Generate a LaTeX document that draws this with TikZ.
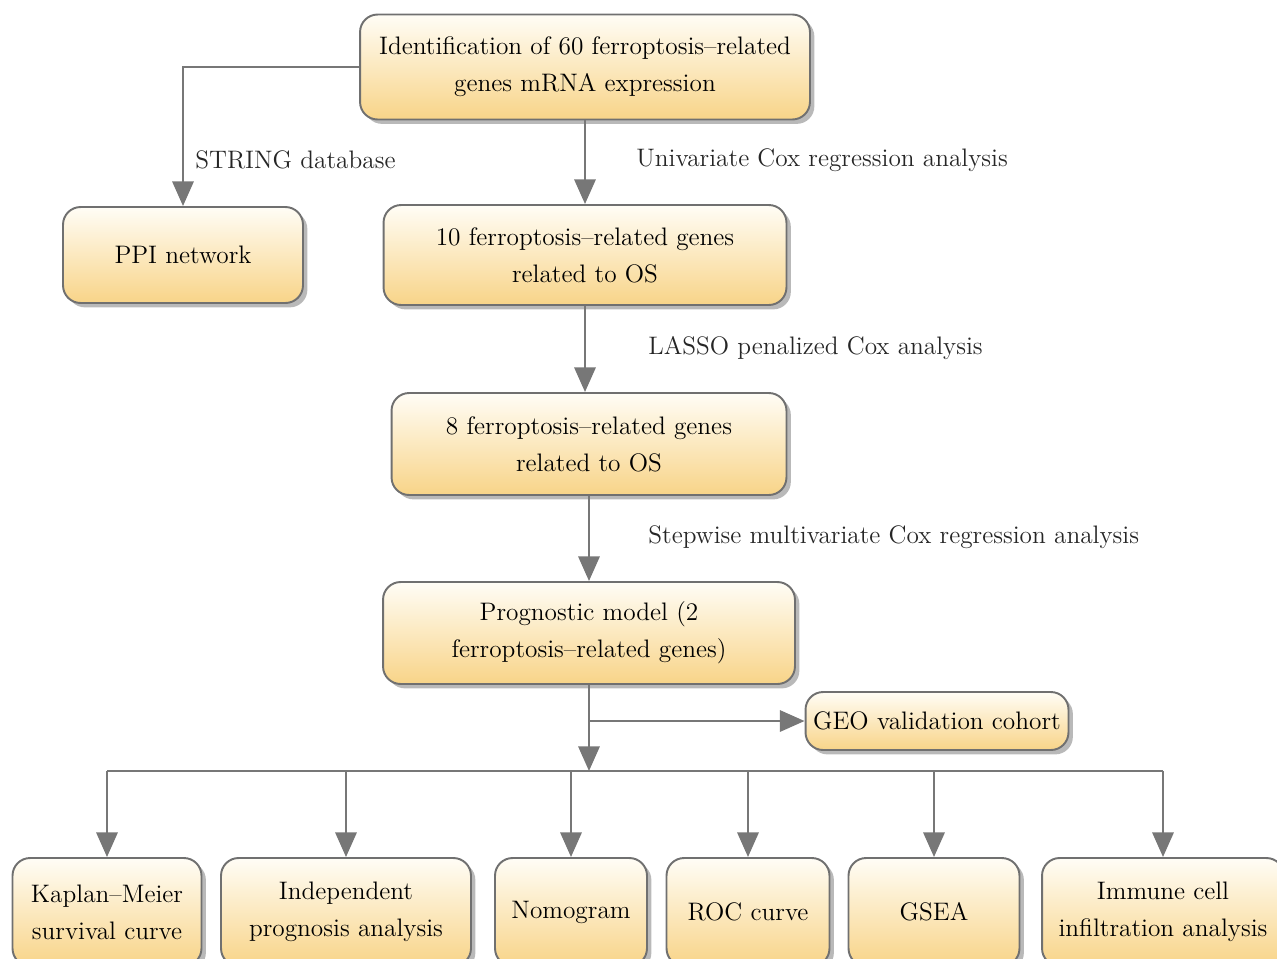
\documentclass[tikz,border=0pt]{standalone}
\usepackage{fontspec}
\usepackage{tikz}
\usetikzlibrary{arrows.meta, positioning, calc, shadows}

\definecolor{boxline}{HTML}{707070}
\definecolor{boxtop}{HTML}{FFFDF6}
\definecolor{boxbot}{HTML}{F8D488}
\definecolor{arrowgray}{HTML}{777777}

\tikzset{
    flowbox/.style={draw=boxline, line width=1.1pt, rounded corners=10pt,
        top color=boxtop, bottom color=boxbot, align=center, inner sep=0pt,
        font=\fontsize{14.4}{21}\selectfont,
        drop shadow={shadow xshift=2.5pt, shadow yshift=-2.5pt, fill=black!50, opacity=0.55}},
    flowarrow/.style={draw=arrowgray, line width=1.6pt, -{Triangle[width=12pt, length=14pt]}},
    busline/.style={draw=arrowgray, line width=1.6pt},
    steplabel/.style={anchor=west, inner sep=0pt, font=\fontsize{14.4}{21}\selectfont, text=black!85}
}

\begin{document}
\begin{tikzpicture}[x=0.02cm, y=-0.02cm]
    \useasboundingbox (0,0) rectangle (1277,958);

    % Catena principale
    \node[flowbox, minimum width=9cm, minimum height=2.1cm] (ident) at (585,67)
        {Identification of 60 ferroptosis--related\\genes mRNA expression};
    \node[flowbox, minimum width=4.8cm, minimum height=1.92cm] (ppi) at (183,255) {PPI network};
    \node[flowbox, minimum width=8.06cm, minimum height=2cm] (ten) at (585,255)
        {10 ferroptosis--related genes\\related to OS};
    \node[flowbox, minimum width=7.9cm, minimum height=2.04cm] (eight) at (589,444)
        {8 ferroptosis--related genes\\related to OS};
    \node[flowbox, minimum width=8.24cm, minimum height=2.04cm] (model) at (589,633)
        {Prognostic model (2\\ferroptosis--related genes)};
    \node[flowbox, minimum width=5.26cm, minimum height=1.16cm] (geo) at (937,721) {GEO validation cohort};

    % Riga in basso
    \node[flowbox, minimum width=3.78cm, minimum height=2.16cm] (km) at (107,912)
        {Kaplan--Meier\\survival curve};
    \node[flowbox, minimum width=5cm, minimum height=2.16cm] (indep) at (346,912)
        {Independent\\prognosis analysis};
    \node[flowbox, minimum width=3.04cm, minimum height=2.16cm] (nomo) at (571,912) {Nomogram};
    \node[flowbox, minimum width=3.26cm, minimum height=2.16cm] (roc) at (748,912) {ROC curve};
    \node[flowbox, minimum width=3.42cm, minimum height=2.16cm] (gsea) at (934,912) {GSEA};
    \node[flowbox, minimum width=4.84cm, minimum height=2.16cm] (immune) at (1163,912)
        {Immune cell\\infiltration analysis};

    % Etichette delle frecce
    \node[steplabel] (lstring) at (195,160) {STRING database};
    \node[steplabel] (luni) at (636,160) {Univariate Cox regression analysis};
    \node[steplabel] (llasso) at (648,348) {LASSO penalized Cox analysis};
    \node[steplabel] (lstep) at (648,537) {Stepwise multivariate Cox regression analysis};

    % Frecce
    \draw[flowarrow] (ident.west) -| (ppi.north);
    \draw[flowarrow] (ident.south) -- (ten.north);
    \draw[flowarrow] (ten.south) -- (ten.south |- eight.north);
    \draw[flowarrow] (eight.south) -- (model.north);

    \coordinate (bus) at (589,771);
    \coordinate (split) at (model.south |- geo.west);
    \draw[flowarrow] (model.south) -- (bus);
    \draw[flowarrow] (split) -- (geo.west);
    \draw[busline] (km.north |- bus) -- (immune.north |- bus);
    \foreach \b in {km, indep, nomo, roc, gsea, immune} {
        \draw[flowarrow] (\b.north |- bus) -- (\b.north);
    }
\end{tikzpicture}
\end{document}
